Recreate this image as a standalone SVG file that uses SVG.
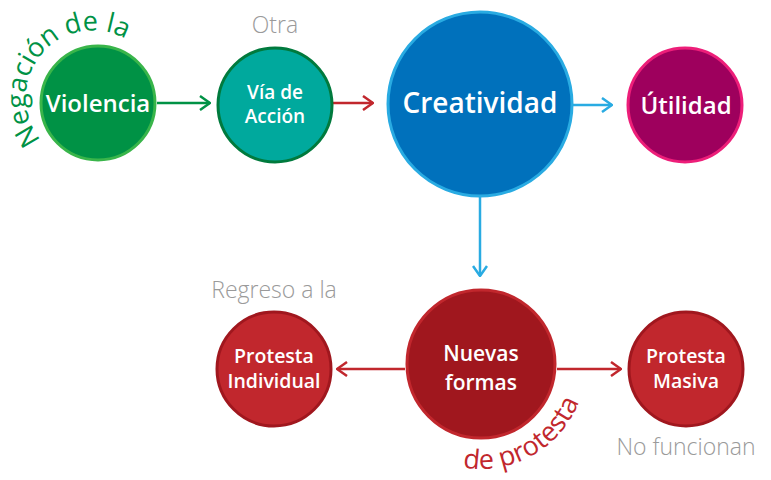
<svg xmlns="http://www.w3.org/2000/svg" width="771" height="480" viewBox="0 0 771 480">
<defs>
<style>
.lbl{font-family:"Open Sans","Liberation Sans",sans-serif;font-weight:600;fill:#fff;text-anchor:middle}
.note{font-family:"Open Sans","Liberation Sans",sans-serif;font-weight:300;fill:#9a9a9a;text-anchor:middle;font-size:23px}
.arc{font-family:"Open Sans","Liberation Sans",sans-serif;font-weight:400;font-size:27px}
.conn{fill:none;stroke-width:2.5}
</style>
<marker id="mg" viewBox="0 0 12 16" refX="11" refY="8" markerWidth="12" markerHeight="16" markerUnits="userSpaceOnUse" orient="auto"><path d="M1,1 L11,8 L1,15" fill="none" stroke="#009245" stroke-width="2.5"/></marker>
<marker id="mr" viewBox="0 0 12 16" refX="11" refY="8" markerWidth="12" markerHeight="16" markerUnits="userSpaceOnUse" orient="auto"><path d="M1,1 L11,8 L1,15" fill="none" stroke="#C1272D" stroke-width="2.5"/></marker>
<marker id="mb" viewBox="0 0 12 16" refX="11" refY="8" markerWidth="12" markerHeight="16" markerUnits="userSpaceOnUse" orient="auto"><path d="M1,1 L11,8 L1,15" fill="none" stroke="#29ABE2" stroke-width="2.5"/></marker>
<path id="arcNeg" d="M41,140 A65,65 0 0 1 145,55"/>
<path id="arcPro" d="M462.8,467.4 A105,105 0 0 0 585.6,354.8"/>
</defs>
<g id="connectors">
<line class="conn" x1="157" y1="103" x2="210" y2="103" stroke="#009245" marker-end="url(#mg)"/>
<line class="conn" x1="333" y1="103" x2="373" y2="103" stroke="#C1272D" marker-end="url(#mr)"/>
<line class="conn" x1="573" y1="105" x2="612" y2="105" stroke="#29ABE2" marker-end="url(#mb)"/>
<line class="conn" x1="480" y1="197" x2="480" y2="276" stroke="#29ABE2" marker-end="url(#mb)"/>
<line class="conn" x1="405" y1="369" x2="337" y2="369" stroke="#C1272D" marker-end="url(#mr)"/>
<line class="conn" x1="557" y1="369" x2="621" y2="369" stroke="#C1272D" marker-end="url(#mr)"/>
</g>
<g id="violencia">
<circle cx="98" cy="103" r="57" fill="#009245" stroke="#39B54A" stroke-width="3"/>
<text class="lbl" x="98" y="112" font-size="24">Violencia</text>
<text class="arc" fill="#009245"><textPath href="#arcNeg" startOffset="0">Negación de la</textPath></text>
</g>
<g id="via">
<circle cx="275" cy="105" r="57" fill="#00A99D" stroke="#007A3D" stroke-width="3"/>
<text class="lbl" x="275" y="99" font-size="19">Vía de</text>
<text class="lbl" x="275" y="123" font-size="19">Acción</text>
<text class="note" x="275" y="33">Otra</text>
</g>
<g id="creatividad">
<circle cx="480" cy="104" r="92" fill="#0071BC" stroke="#29ABE2" stroke-width="3"/>
<text class="lbl" x="480" y="113" font-size="28">Creatividad</text>
</g>
<g id="utilidad">
<circle cx="685" cy="105" r="57" fill="#9E005D" stroke="#ED1E79" stroke-width="3"/>
<text class="lbl" x="686" y="114" font-size="24">Útilidad</text>
</g>
<g id="nuevas">
<circle cx="481" cy="364" r="74" fill="#A0171E" stroke="#C1272D" stroke-width="3"/>
<text class="lbl" x="481" y="361" font-size="21">Nuevas</text>
<text class="lbl" x="481" y="390" font-size="21">formas</text>
<text class="arc" fill="#C1272D"><textPath href="#arcPro" startOffset="0">de protesta</textPath></text>
</g>
<g id="individual">
<circle cx="274" cy="369" r="57" fill="#C1272D" stroke="#A0171E" stroke-width="3"/>
<text class="lbl" x="274" y="363" font-size="19.5">Protesta</text>
<text class="lbl" x="274" y="388" font-size="19.5">Individual</text>
<text class="note" x="274" y="298">Regreso a la</text>
</g>
<g id="masiva">
<circle cx="686" cy="369" r="57" fill="#C1272D" stroke="#A0171E" stroke-width="3"/>
<text class="lbl" x="686" y="363" font-size="19.5">Protesta</text>
<text class="lbl" x="686" y="388" font-size="19.5">Masiva</text>
<text class="note" x="686" y="455">No funcionan</text>
</g>
</svg>
